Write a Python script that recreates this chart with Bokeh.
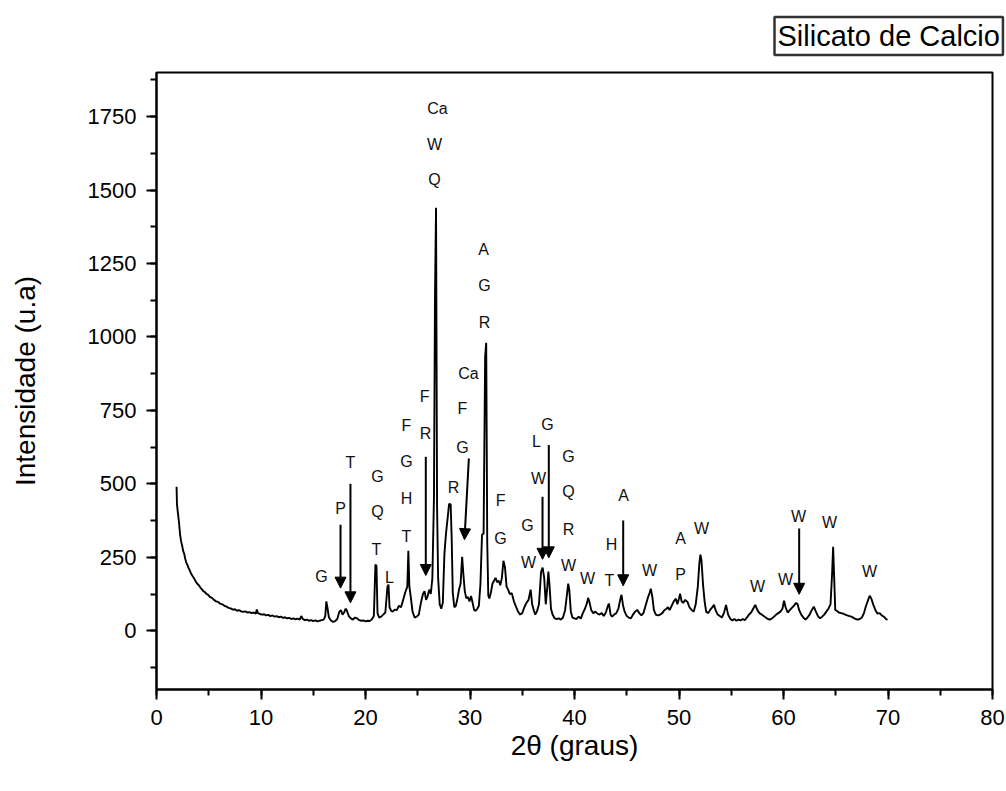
from bokeh.plotting import figure
from bokeh.models import (Arrow, NormalHead, Title, ColumnDataSource,
                          SingleIntervalTicker, Range1d)
from bokeh.core.properties import value
from bokeh.embed import file_html
from bokeh.resources import INLINE

# ---- diffractogram (2theta in degrees, intensity in a.u.) ----
two_theta = [
    1.92, 1.96, 2.05, 2.15, 2.25, 2.35, 2.45, 2.55, 2.65, 2.75,
    2.85, 2.95, 3.05, 3.15, 3.3, 3.45, 3.6, 3.75, 3.9, 4.05,
    4.2, 4.35, 4.5, 4.65, 4.8, 4.95, 5.1, 5.3, 5.5, 5.7,
    5.9, 6.1, 6.3, 6.5, 6.7, 6.9, 7.1, 7.3, 7.5, 7.7,
    7.9, 8.1, 8.3, 8.5, 8.7, 8.9, 9.1, 9.3, 9.5, 9.6,
    9.7, 9.9, 10.1, 10.3, 10.5, 10.7, 10.9, 11.1, 11.3, 11.5,
    11.7, 11.9, 12.1, 12.3, 12.5, 12.7, 12.9, 13.1, 13.3, 13.5,
    13.7, 13.85, 14.0, 14.2, 14.4, 14.6, 14.8, 15.0, 15.2, 15.4,
    15.6, 15.8, 16.0, 16.15, 16.25, 16.35, 16.5, 16.7, 16.9, 17.1,
    17.3, 17.5, 17.65, 17.8, 17.95, 18.1, 18.2, 18.4, 18.6, 18.8,
    19.0, 19.2, 19.4, 19.6, 19.8, 20.0, 20.2, 20.4, 20.6, 20.8,
    20.95, 21.05, 21.15, 21.3, 21.5, 21.7, 21.9, 22.1, 22.2, 22.3,
    22.45, 22.6, 22.8, 23.0, 23.2, 23.4, 23.6, 23.8, 24.0, 24.1,
    24.2, 24.35, 24.5, 24.7, 24.9, 25.1, 25.3, 25.5, 25.65, 25.8,
    25.95, 26.1, 26.25, 26.4, 26.55, 26.65, 26.75, 26.85, 26.95, 27.1,
    27.25, 27.4, 27.55, 27.7, 27.85, 28.0, 28.15, 28.25, 28.35, 28.5,
    28.65, 28.8, 28.95, 29.1, 29.25, 29.35, 29.5, 29.65, 29.8, 29.95,
    30.1, 30.25, 30.4, 30.55, 30.7, 30.85, 31.0, 31.15, 31.3, 31.45,
    31.55, 31.65, 31.75, 31.85, 32.0, 32.15, 32.3, 32.45, 32.6, 32.75,
    32.9, 33.05, 33.2, 33.35, 33.5, 33.65, 33.8, 34.0, 34.2, 34.4,
    34.6, 34.8, 35.0, 35.2, 35.4, 35.6, 35.8, 35.95, 36.1, 36.25,
    36.4, 36.6, 36.8, 36.95, 37.1, 37.25, 37.4, 37.5, 37.6, 37.75,
    37.9, 38.1, 38.3, 38.5, 38.7, 38.9, 39.1, 39.3, 39.4, 39.5,
    39.65, 39.8, 40.0, 40.2, 40.4, 40.6, 40.8, 41.0, 41.2, 41.3,
    41.45, 41.6, 41.8, 42.0, 42.2, 42.4, 42.6, 42.8, 43.0, 43.2,
    43.3, 43.45, 43.6, 43.8, 44.0, 44.2, 44.4, 44.5, 44.65, 44.8,
    45.0, 45.2, 45.4, 45.6, 45.8, 46.0, 46.2, 46.4, 46.6, 46.8,
    47.0, 47.2, 47.3, 47.45, 47.6, 47.8, 48.0, 48.2, 48.4, 48.6,
    48.8, 48.95, 49.1, 49.3, 49.5, 49.7, 49.85, 50.0, 50.1, 50.25,
    50.4, 50.6, 50.8, 51.0, 51.2, 51.4, 51.6, 51.8, 51.95, 52.05,
    52.15, 52.3, 52.45, 52.6, 52.8, 53.0, 53.2, 53.35, 53.5, 53.7,
    53.9, 54.1, 54.3, 54.5, 54.7, 54.9, 55.1, 55.3, 55.5, 55.7,
    55.9, 56.1, 56.3, 56.5, 56.7, 56.9, 57.1, 57.3, 57.5, 57.7,
    57.9, 58.1, 58.3, 58.5, 58.7, 58.9, 59.1, 59.3, 59.5, 59.7,
    59.9, 60.05, 60.2, 60.4, 60.6, 60.8, 61.0, 61.2, 61.35, 61.5,
    61.7, 61.9, 62.1, 62.3, 62.5, 62.7, 62.9, 63.1, 63.3, 63.5,
    63.7, 63.9, 64.1, 64.3, 64.5, 64.65, 64.75, 64.85, 64.95, 65.1,
    65.3, 65.5, 65.7, 65.9, 66.1, 66.3, 66.5, 66.7, 66.9, 67.1,
    67.3, 67.5, 67.7, 67.9, 68.1, 68.25, 68.4, 68.6, 68.8, 69.0,
    69.2, 69.4, 69.6, 69.8, 69.95,
]
intensity = [
    490, 430, 400, 370, 330, 305, 290, 272, 262, 245,
    232, 225, 215, 208, 195, 186, 178, 168, 160, 155,
    147, 141, 134, 131, 125, 122, 115, 112, 105, 100,
    98, 92, 90, 85, 82, 78, 76, 72, 73, 68,
    70, 66, 64, 66, 62, 63, 60, 62, 58, 72,
    60, 57, 55, 56, 52, 54, 50, 52, 48, 50,
    46, 48, 44, 46, 42, 44, 40, 42, 39, 41,
    38, 50, 40, 36, 38, 34, 36, 33, 35, 32,
    34, 36, 38, 50, 100, 80, 45, 35, 30, 33,
    40, 65, 70, 55, 62, 75, 70, 50, 42, 38,
    45, 42, 36, 34, 35, 32, 34, 33, 38, 50,
    225, 220, 60, 45, 48, 55, 62, 150, 157, 80,
    68, 65, 72, 70, 85, 80, 105, 130, 150, 272,
    150, 110, 65, 45, 48, 55, 95, 125, 135, 105,
    118, 140, 125, 180, 450, 1140, 1440, 420, 180, 90,
    75, 95, 260, 330, 380, 432, 430, 310, 130, 80,
    85, 110, 140, 160, 252, 200, 135, 110, 115, 100,
    118, 95, 70, 68, 75, 85, 160, 327, 330, 933,
    980, 300, 120, 110, 130, 160, 170, 180, 165, 170,
    155, 180, 238, 215, 150, 140, 125, 128, 100, 82,
    65, 55, 60, 80, 95, 105, 140, 90, 70, 55,
    65, 90, 200, 215, 180, 90, 150, 201, 160, 75,
    55, 42, 40, 42, 38, 45, 70, 130, 160, 140,
    65, 45, 42, 40, 48, 41, 60, 75, 95, 112,
    95, 70, 60, 65, 58, 55, 60, 50, 62, 85,
    92, 55, 48, 55, 60, 75, 110, 122, 85, 65,
    50, 45, 42, 55, 65, 71, 60, 52, 60, 85,
    110, 130, 143, 115, 70, 54, 52, 55, 60, 70,
    75, 80, 70, 85, 100, 109, 90, 110, 126, 100,
    95, 105, 99, 80, 71, 65, 90, 150, 230, 259,
    240, 157, 100, 65, 60, 72, 80, 88, 70, 55,
    50, 45, 60, 88, 55, 41, 35, 40, 34, 38,
    35, 40, 36, 45, 55, 62, 75, 88, 70, 60,
    55, 50, 45, 40, 38, 42, 48, 55, 60, 65,
    75, 102, 80, 62, 70, 78, 85, 95, 90, 70,
    55, 45, 38, 45, 55, 70, 82, 65, 50, 42,
    48, 55, 65, 75, 90, 194, 286, 180, 71, 68,
    62, 60, 58, 55, 52, 50, 48, 44, 40, 38,
    40, 45, 60, 85, 105, 119, 110, 88, 70, 58,
    60, 52, 48, 40, 37,
]

# ---- phase identification letters (position in 2theta / intensity) ----
phase_x = [15.79, 17.61, 18.56, 21.15, 21.15, 21.05, 22.30,
           23.92, 23.92, 23.92, 23.92, 25.65, 25.74,
           26.89, 26.60, 26.60, 28.42, 29.86, 29.28, 29.28,
           31.29, 31.39, 31.39, 32.92, 32.92, 35.50, 35.60,
           36.36, 36.56, 37.42, 39.43, 39.43, 39.43, 39.43,
           41.24, 43.54, 43.35, 44.69, 47.18, 50.14, 50.14,
           52.15, 57.51, 60.19, 61.44, 64.40, 68.23]
phase_y = [184, 415, 572, 524, 405, 276, 180,
           698, 575, 449, 320, 797, 671,
           1777, 1655, 1536, 487, 875, 756, 623,
           1297, 1175, 1049, 443, 313, 358, 232,
           644, 518, 701, 592, 473, 344, 221,
           177, 293, 170, 460, 204, 313, 191,
           347, 150, 174, 388, 368, 201]
phase_text = ["G", "P", "T", "G", "Q", "T", "L",
              "F", "G", "H", "T", "F", "R",
              "Ca", "W", "Q", "R", "Ca", "F", "G",
              "A", "G", "R", "F", "G", "G", "W",
              "L", "W", "G", "G", "Q", "R", "W",
              "W", "H", "T", "A", "W", "A", "P",
              "W", "W", "W", "W", "W", "W"]

# ---- arrows marking peaks ----
arrow_x0 = [17.61, 18.56, 25.77, 29.89, 36.94, 37.54, 44.66, 61.50]
arrow_y0 = [361, 500, 592, 586, 456, 632, 375, 348]
arrow_x1 = [17.61, 18.56, 25.77, 29.47, 36.94, 37.54, 44.66, 61.50]
arrow_y1 = [145, 95, 188, 310, 243, 248, 153, 124]

legend_text = "Silicato de Calcio"

FONT = "Liberation Sans"

p = figure(width=1006, height=783,
           x_range=Range1d(0, 80), y_range=Range1d(-200, 1900),
           output_backend="svg", toolbar_location=None,
           min_border_left=156, min_border_right=14,
           min_border_top=72, min_border_bottom=94,
           background_fill_color="white", border_fill_color="white")

p.line(two_theta, intensity, line_color="black", line_width=1.9)

src = ColumnDataSource(dict(x=phase_x, y=phase_y, t=phase_text))
p.text("x", "y", text="t", source=src, text_font=value(FONT),
       text_font_size="16px", text_align="center", text_baseline="middle",
       text_color="#111111")

asrc = ColumnDataSource(dict(x0=arrow_x0, y0=arrow_y0, x1=arrow_x1, y1=arrow_y1))
p.add_layout(Arrow(x_start="x0", y_start="y0", x_end="x1", y_end="y1",
                   source=asrc, line_color="black", line_width=2,
                   end=NormalHead(size=11, fill_color="black",
                                  line_color="black", line_width=1)))

# axes
p.xgrid.visible = False
p.ygrid.visible = False
p.outline_line_color = "black"
p.outline_line_width = 2

p.xaxis.ticker = SingleIntervalTicker(interval=10, num_minor_ticks=2)
p.yaxis.ticker = SingleIntervalTicker(interval=250, num_minor_ticks=2)
for ax in (p.xaxis[0], p.yaxis[0]):
    ax.axis_line_width = 2
    ax.axis_line_color = "black"
    ax.major_tick_line_width = 2
    ax.minor_tick_line_width = 2
    ax.major_tick_in = 0
    ax.major_tick_out = 10
    ax.minor_tick_in = 0
    ax.minor_tick_out = 6
    ax.major_label_text_font = FONT
    ax.major_label_text_font_size = "22px"
    ax.major_label_text_color = "black"
    ax.axis_label_text_font = FONT
    ax.axis_label_text_font_size = "28px"
    ax.axis_label_text_font_style = "normal"
    ax.axis_label_text_color = "black"

p.xaxis.axis_label = "2θ (graus)"
p.yaxis.axis_label = "Intensidade (u.a)"
p.xaxis.major_label_standoff = 10
p.yaxis.major_label_standoff = 10
p.xaxis.axis_label_standoff = 2
p.yaxis.axis_label_standoff = 44

# legend-like boxed caption above the plot, right side
p.add_layout(Title(text=legend_text, align="left", offset=618, standoff=31,
                   vertical_align="top",
                   text_font=FONT, text_font_size="29px",
                   text_font_style="normal", text_color="black",
                   border_line_color="#333333", border_line_width=2.5,
                   background_fill_color="white", padding=3), "above")

open("out.html", "w").write(file_html(p, INLINE))
